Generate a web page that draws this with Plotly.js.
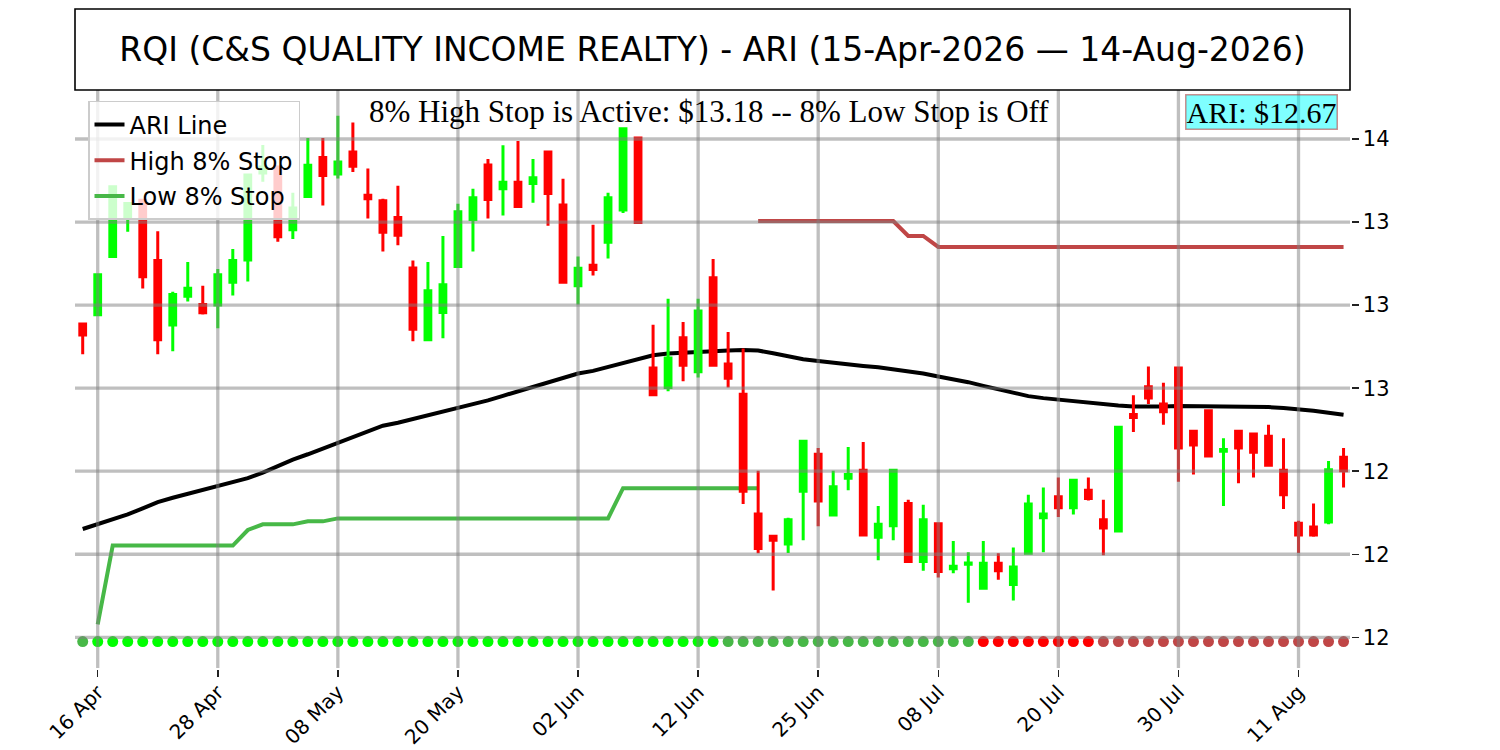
<!DOCTYPE html>
<html><head><meta charset="utf-8">
<script src="https://cdn.plot.ly/plotly-3.0.1.min.js"></script>
<style>html,body{margin:0;padding:0;background:#fff}#chart{width:1500px;height:750px}</style>
</head><body><div id="chart"></div>
<script>
const dates = [
 '2026-04-15','2026-04-16','2026-04-17','2026-04-20','2026-04-21','2026-04-22','2026-04-23','2026-04-24','2026-04-27','2026-04-28',
 '2026-04-29','2026-04-30','2026-05-01','2026-05-04','2026-05-05','2026-05-06','2026-05-07','2026-05-08','2026-05-11','2026-05-12',
 '2026-05-13','2026-05-14','2026-05-15','2026-05-18','2026-05-19','2026-05-20','2026-05-21','2026-05-22','2026-05-26','2026-05-27',
 '2026-05-28','2026-05-29','2026-06-01','2026-06-02','2026-06-03','2026-06-04','2026-06-05','2026-06-08','2026-06-09','2026-06-10',
 '2026-06-11','2026-06-12','2026-06-15','2026-06-16','2026-06-17','2026-06-18','2026-06-22','2026-06-23','2026-06-24','2026-06-25',
 '2026-06-26','2026-06-29','2026-06-30','2026-07-01','2026-07-02','2026-07-06','2026-07-07','2026-07-08','2026-07-09','2026-07-10',
 '2026-07-13','2026-07-14','2026-07-15','2026-07-16','2026-07-17','2026-07-20','2026-07-21','2026-07-22','2026-07-23','2026-07-24',
 '2026-07-27','2026-07-28','2026-07-29','2026-07-30','2026-07-31','2026-08-03','2026-08-04','2026-08-05','2026-08-06','2026-08-07',
 '2026-08-10','2026-08-11','2026-08-12','2026-08-13','2026-08-14'];

const openPx = [
 12.943,12.971,13.146,13.266,13.316,13.134,12.940,13.027,13.002,13.000,
 13.069,13.136,13.398,13.416,13.227,13.327,13.444,13.395,13.461,13.331,
 13.314,13.264,13.112,12.896,12.978,13.116,13.258,13.422,13.350,13.370,
 13.366,13.461,13.301,13.058,13.120,13.189,13.286,13.503,12.811,12.752,
 12.902,12.799,13.082,12.823,12.732,12.371,12.304,12.281,12.440,12.551,
 12.368,12.479,12.503,12.301,12.336,12.403,12.228,12.342,12.206,12.220,
 12.148,12.223,12.159,12.253,12.360,12.423,12.390,12.443,12.354,12.320,
 12.671,12.754,12.702,12.811,12.620,12.682,12.560,12.620,12.612,12.605,
 12.503,12.343,12.332,12.347,12.542];
const highPx = [
 12.945,13.095,13.360,13.310,13.320,13.222,13.040,13.130,13.058,13.109,
 13.169,13.395,13.482,13.420,13.338,13.503,13.503,13.570,13.550,13.411,
 13.320,13.359,13.134,13.130,13.208,13.305,13.350,13.440,13.481,13.494,
 13.440,13.461,13.380,13.146,13.242,13.338,13.531,13.503,12.941,13.019,
 12.949,13.019,13.139,12.919,12.869,12.501,12.305,12.360,12.590,12.570,
 12.501,12.573,12.588,12.395,12.503,12.414,12.399,12.342,12.290,12.256,
 12.290,12.253,12.270,12.429,12.451,12.481,12.475,12.481,12.414,12.632,
 12.729,12.815,12.766,12.811,12.620,12.682,12.599,12.620,12.612,12.640,
 12.599,12.351,12.403,12.531,12.570];
const lowPx = [
 12.852,12.968,13.146,13.221,13.050,12.852,12.861,13.011,12.972,12.930,
 13.029,13.071,13.371,13.191,13.199,13.325,13.300,13.381,13.401,13.261,
 13.161,13.180,12.891,12.895,12.900,13.115,13.161,13.261,13.270,13.297,
 13.308,13.239,13.069,13.002,13.089,13.140,13.277,13.249,12.730,12.741,
 12.771,12.782,12.819,12.752,12.401,12.253,12.141,12.254,12.292,12.334,
 12.367,12.443,12.308,12.232,12.292,12.228,12.200,12.180,12.193,12.104,
 12.148,12.173,12.111,12.253,12.256,12.362,12.370,12.412,12.247,12.320,
 12.618,12.702,12.640,12.468,12.490,12.542,12.395,12.464,12.481,12.518,
 12.386,12.254,12.303,12.340,12.451];
const closePx = [
 12.910,13.091,13.356,13.306,13.085,12.896,13.032,13.051,12.977,13.091,
 13.134,13.392,13.416,13.206,13.292,13.421,13.390,13.431,13.418,13.320,
 13.219,13.210,12.927,13.043,13.061,13.281,13.323,13.318,13.370,13.297,
 13.383,13.336,13.069,13.111,13.107,13.323,13.531,13.249,12.730,12.841,
 12.819,12.982,12.819,12.780,12.440,12.267,12.292,12.354,12.590,12.410,
 12.453,12.490,12.308,12.340,12.503,12.228,12.354,12.198,12.214,12.224,
 12.223,12.200,12.212,12.401,12.371,12.390,12.473,12.418,12.329,12.632,
 12.662,12.720,12.679,12.570,12.579,12.546,12.565,12.570,12.557,12.518,
 12.429,12.308,12.308,12.504,12.501];

const ariLine = [
 12.326,12.340,12.354,12.370,12.388,12.407,12.420,12.432,12.443,12.454,
 12.465,12.479,12.496,12.516,12.535,12.551,12.568,12.585,12.604,12.621,
 12.637,12.646,12.657,12.668,12.677,12.688,12.699,12.713,12.727,12.741,
 12.754,12.768,12.782,12.794,12.802,12.813,12.824,12.837,12.849,12.854,
 12.857,12.860,12.862,12.863,12.865,12.863,12.855,12.846,12.837,12.832,
 12.826,12.822,12.817,12.813,12.807,12.801,12.794,12.785,12.777,12.768,
 12.757,12.746,12.735,12.726,12.720,12.715,12.710,12.706,12.702,12.698,
 12.695,12.694,12.695,12.696,12.696,12.695,12.695,12.694,12.694,12.693,
 12.690,12.687,12.682,12.676,12.670];

const highStop = [
 null,null,null,null,null,null,null,null,null,null,
 null,null,null,null,null,null,null,null,null,null,
 null,null,null,null,null,null,null,null,null,null,
 null,null,null,null,null,null,null,null,null,null,
 null,null,null,null,null,13.253,13.253,13.253,13.253,13.253,
 13.253,13.253,13.253,13.253,13.253,13.208,13.208,13.175,13.175,13.175,
 13.175,13.175,13.175,13.175,13.175,13.175,13.175,13.175,13.175,13.175,
 13.175,13.175,13.175,13.175,13.175,13.175,13.175,13.175,13.175,13.175,
 13.175,13.175,13.175,13.175,13.175];

const lowStop = [
 null,12.039,12.276,12.276,12.276,12.276,12.276,12.276,12.276,12.276,
 12.276,12.323,12.340,12.340,12.340,12.349,12.349,12.358,12.358,12.358,
 12.358,12.358,12.358,12.358,12.358,12.358,12.358,12.358,12.358,12.358,
 12.358,12.358,12.358,12.358,12.358,12.358,12.449,12.449,12.449,12.449,
 12.449,12.449,12.449,12.449,12.449,12.449,null,null,null,null,
 null,null,null,null,null,null,null,null,null,null,
 null,null,null,null,null,null,null,null,null,null,
 null,null,null,null,null,null,null,null,null,null,
 null,null,null,null,null];

// 0 = low stop (faded), 1 = low stop active, 2 = high stop active, 3 = high stop (faded)
const stopSignal = [
 0,1,1,1,1,1,1,1,1,1, 1,1,1,1,1,1,1,1,1,1,
 1,1,1,1,1,1,1,1,1,1, 1,1,1,1,1,1,1,1,1,1,
 1,1,1,0,0,0,0,0,0,0, 0,0,0,0,0,0,0,0,0,0,
 2,2,2,2,2,2,2,2,3,3, 3,3,3,3,3,3,3,3,3,3,
 3,3,3,3,3];
const signalColors = ['#47b847','#00ff00','#ff0000','#c04646'];
const signalLevel = 11.987;

const tickDates = ['2026-04-16','2026-04-28','2026-05-08','2026-05-20','2026-06-02','2026-06-12','2026-06-25','2026-07-08','2026-07-20','2026-07-30','2026-08-11'];
const tickLabels = ['16 Apr','28 Apr','08 May','20 May','02 Jun','12 Jun','25 Jun','08 Jul','20 Jul','30 Jul','11 Aug'];
const priceTicks = [12, 12.25, 12.5, 12.75, 13, 13.25, 13.5];
const priceTickLabels = ['12','12','12','13','13','13','14'];

const titleText = 'RQI (C&amp;S QUALITY INCOME REALTY) - ARI (15-Apr-2026 \u2014 14-Aug-2026)';
const statusText = '8% High Stop is Active: $13.18 -- 8% Low Stop is Off';
const ariText = 'ARI: $12.67';

const gridStyle = {color:'rgba(128,128,128,0.5)', width:3.3};
const sans = 'DejaVu Sans';
const serif = 'Liberation Serif';

const traces = [
 {type:'scatter', mode:'lines', x:dates, y:ariLine, name:'ARI Line', legendgroup:'a',
  line:{color:'#000000', width:4}, hoverinfo:'skip', zorder:0},
 {type:'scatter', mode:'lines', x:dates, y:highStop, name:'High 8% Stop', legendgroup:'b',
  line:{color:'#c04646', width:4}, hoverinfo:'skip', zorder:0},
 {type:'scatter', mode:'lines', x:dates, y:lowStop, name:'Low 8% Stop', legendgroup:'c',
  line:{color:'#47b847', width:4}, hoverinfo:'skip', zorder:0},
 {type:'candlestick', x:dates, open:openPx, high:highPx, low:lowPx, close:closePx,
  increasing:{line:{color:'#00ff00', width:3}, fillcolor:'#00ff00'},
  decreasing:{line:{color:'#ff0000', width:3}, fillcolor:'#ff0000'},
  whiskerwidth:0, showlegend:false, hoverinfo:'skip', zorder:1},
 {type:'scatter', mode:'markers', x:dates, y:dates.map(() => signalLevel),
  marker:{size:11, color:stopSignal.map(s => signalColors[s]), line:{width:0}},
  showlegend:false, hoverinfo:'skip', zorder:2}
];

const shapes = [];
tickDates.forEach(d => {
  const i = dates.indexOf(d);
  shapes.push({type:'line', xref:'x', yref:'paper', x0:i, x1:i, y0:0, y1:1, line:gridStyle, layer:'above'});
});
priceTicks.forEach(v => {
  shapes.push({type:'line', xref:'paper', yref:'y', x0:0, x1:1, y0:v, y1:v, line:gridStyle, layer:'above'});
});
shapes.push({type:'rect', xref:'paper', yref:'paper', x0:0, x1:1, y0:1, y1:1.1401,
  line:{color:'#000000', width:1.6}, fillcolor:'rgba(0,0,0,0)', layer:'above'});

const layout = {
  width:1500, height:750,
  margin:{l:75, r:150, t:90, b:82},
  paper_bgcolor:'#ffffff', plot_bgcolor:'#ffffff',
  showlegend:true,
  boxgap:0.45,
  title:{text:titleText, font:{family:sans, size:33, color:'#000'}, xref:'paper', x:0.5, xanchor:'center', yref:'container', y:0.934, yanchor:'middle'},
  xaxis:{type:'category', range:[-0.513, 84.43], tickmode:'array', tickvals:tickDates, ticktext:tickLabels,
    tickangle:-45, ticks:'outside', ticklen:7, tickwidth:1.5, tickcolor:'#222', ticklabelstandoff:-4,
    showgrid:false, zeroline:false, showline:true, mirror:true, linecolor:'#222', linewidth:1.6,
    rangeslider:{visible:false}, tickfont:{family:sans, size:20, color:'#000'}, automargin:false, fixedrange:true},
  yaxis:{side:'right', range:[11.9076, 13.6475], tickmode:'array', tickvals:priceTicks, ticktext:priceTickLabels,
    ticks:'outside', ticklen:7, tickwidth:1.5, tickcolor:'#222',
    showgrid:false, zeroline:false, showline:true, mirror:true, linecolor:'#222', linewidth:1.6,
    tickfont:{family:sans, size:21, color:'#000'}, automargin:false, fixedrange:true},
  legend:{x:0.0102, y:0.981, xanchor:'left', yanchor:'top', bgcolor:'rgba(255,255,255,0.8)',
    bordercolor:'#cccccc', borderwidth:1.5, font:{family:sans, size:24, color:'#000'},
    traceorder:'grouped', tracegroupgap:1.5, itemwidth:30},
  shapes:shapes,
  annotations:[
    {xref:'paper', yref:'paper', x:0.497, y:0.962, xanchor:'center', yanchor:'middle', showarrow:false,
     text:statusText, font:{family:serif, size:31, color:'#000'}},
    {xref:'paper', yref:'paper', x:0.9909, y:0.9628, xanchor:'right', yanchor:'middle', showarrow:false,
     text:ariText, font:{family:serif, size:30, color:'#000'}, bgcolor:'rgba(0,255,255,0.5)',
     bordercolor:'rgba(178,34,34,0.5)', borderwidth:1.5, borderpad:0}
  ]
};

Plotly.newPlot('chart', traces, layout, {displayModeBar:false, staticPlot:true});
</script></body></html>
